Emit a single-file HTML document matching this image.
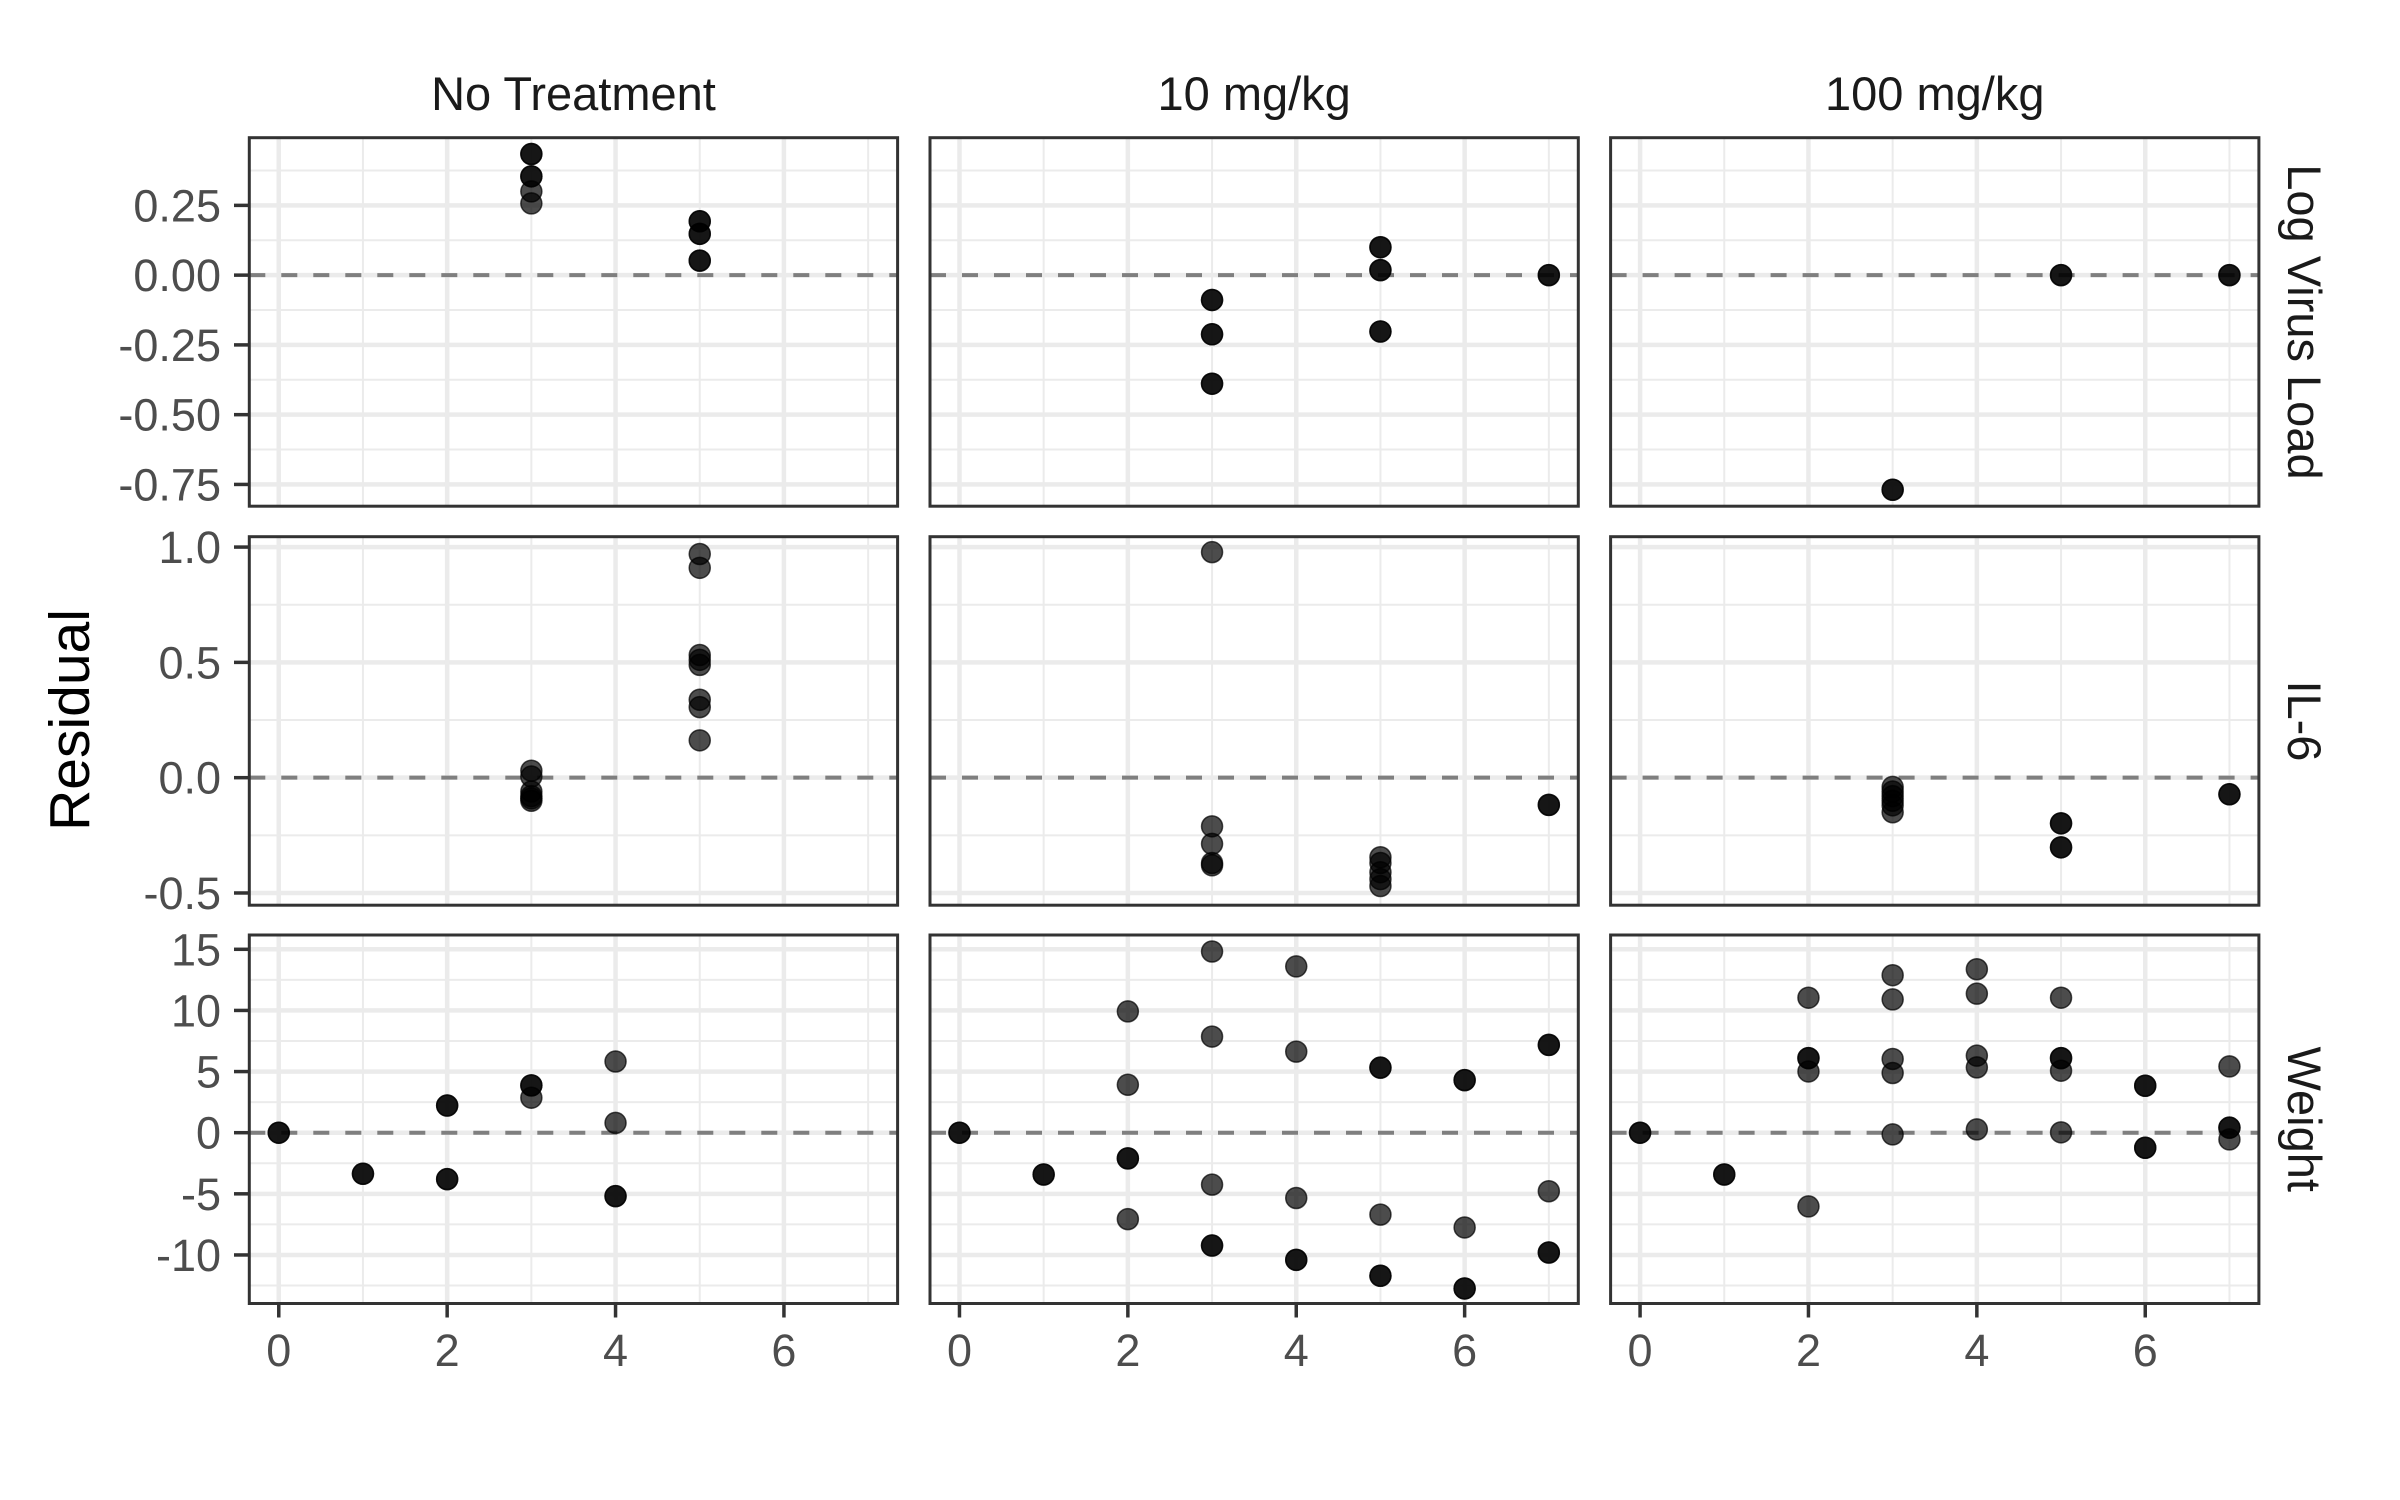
<!DOCTYPE html>
<html><head><meta charset="utf-8"><style>
html,body{margin:0;padding:0;background:#fff;}
svg{display:block;}
text{font-family:"Liberation Sans",Arial,sans-serif;}
</style></head><body>
<svg id="chart" xmlns="http://www.w3.org/2000/svg" width="2400" height="1500" viewBox="0 0 2400 1500">
<rect x="0" y="0" width="2400" height="1500" fill="#fff"/>
<text x="89" y="720" font-size="57" fill="#000" text-anchor="middle" transform="rotate(-90 89 720)">Residual</text>
</svg>
<script>
const treatments = ['No Treatment', '10 mg/kg', '100 mg/kg'];
const outcomes = ['Log Virus Load', 'IL-6', 'Weight'];
const xTicks = [0, 2, 4, 6];
const xTickLabels = ['0', '2', '4', '6'];
const xMinor = [1, 3, 5, 7];
const xDomain = [-0.35, 7.35];
const lvlDomain = [-0.828, 0.4925];
const il6Domain = [-0.553, 1.045];
const wtDomain = [-13.97, 16.17];
const lvlTicks = [0.25, 0, -0.25, -0.5, -0.75];
const lvlTickLabels = ['0.25', '0.00', '-0.25', '-0.50', '-0.75'];
const lvlMinor = [0.375, 0.125, -0.125, -0.375, -0.625];
const il6Ticks = [1.0, 0.5, 0, -0.5];
const il6TickLabels = ['1.0', '0.5', '0.0', '-0.5'];
const il6Minor = [0.75, 0.25, -0.25];
const wtTicks = [15, 10, 5, 0, -5, -10];
const wtTickLabels = ['15', '10', '5', '0', '-5', '-10'];
const wtMinor = [12.5, 7.5, 2.5, -2.5, -7.5, -12.5];

// Log Virus Load
const lvlNoTxDay = [3, 3, 3, 3, 3, 3, 5, 5, 5, 5, 5, 5];
const lvlNoTxRes = [0.434, 0.434, 0.354, 0.354, 0.30, 0.257, 0.193, 0.193, 0.148, 0.148, 0.052, 0.052];
const lvl10Day = [3, 3, 3, 3, 3, 3, 5, 5, 5, 5, 5, 5, 7, 7];
const lvl10Res = [-0.089, -0.089, -0.212, -0.212, -0.389, -0.389, 0.10, 0.10, 0.018, 0.018, -0.202, -0.202, 0, 0];
const lvl100Day = [3, 3, 5, 5, 7, 7];
const lvl100Res = [-0.769, -0.769, 0, 0, 0, 0];
// IL-6
const il6NoTxDay = [3, 3, 3, 3, 3, 3, 5, 5, 5, 5, 5, 5, 5, 5];
const il6NoTxRes = [0.03, 0.005, -0.06, -0.08, -0.09, -0.10, 0.97, 0.91, 0.532, 0.511, 0.489, 0.338, 0.306, 0.162];
const il610Day = [3, 3, 3, 3, 3, 5, 5, 5, 5, 5, 7, 7];
const il610Res = [0.978, -0.211, -0.287, -0.37, -0.38, -0.345, -0.37, -0.41, -0.44, -0.47, -0.118, -0.118];
const il6100Day = [3, 3, 3, 3, 3, 3, 5, 5, 5, 5, 7, 7];
const il6100Res = [-0.04, -0.06, -0.08, -0.10, -0.12, -0.15, -0.198, -0.198, -0.302, -0.302, -0.072, -0.072];
// Weight
const wtNoTxDay = [0, 0, 1, 1, 2, 2, 2, 2, 3, 3, 3, 4, 4, 4, 4];
const wtNoTxRes = [0, 0, -3.36, -3.36, 2.22, 2.22, -3.8, -3.8, 3.87, 3.87, 2.86, 5.82, 0.8, -5.19, -5.19];
const wt10Day = [0, 0, 1, 1, 2, 2, 2, 2, 2, 3, 3, 3, 3, 3, 4, 4, 4, 4, 4, 5, 5, 5, 5, 5, 6, 6, 6, 6, 6, 7, 7, 7, 7, 7];
const wt10Res = [0, 0, -3.42, -3.42, 9.92, 3.92, -2.1, -2.1, -7.07, 14.82, 7.86, -4.25, -9.23, -9.23, 13.6, 6.63, -5.34, -10.4, -10.4, 5.32, 5.32, -6.7, -11.7, -11.7, 4.3, 4.3, -7.75, -12.74, -12.74, 7.18, 7.18, -4.79, -9.8, -9.8];
const wt100Day = [0, 0, 1, 1, 2, 2, 2, 2, 2, 3, 3, 3, 3, 3, 4, 4, 4, 4, 4, 5, 5, 5, 5, 5, 6, 6, 6, 6, 7, 7, 7, 7];
const wt100Res = [0, 0, -3.42, -3.42, 11.04, 6.1, 6.1, 5.01, -6.03, 12.88, 10.9, 6.03, 4.88, -0.14, 13.37, 11.37, 6.3, 5.34, 0.27, 11.04, 6.1, 6.1, 5.07, 0.03, 3.84, 3.84, -1.23, -1.23, 5.42, 0.41, 0.41, -0.55];

const rows = [
  {domain: lvlDomain, ticks: lvlTicks, labels: lvlTickLabels, minor: lvlMinor, days: [lvlNoTxDay, lvl10Day, lvl100Day], res: [lvlNoTxRes, lvl10Res, lvl100Res]},
  {domain: il6Domain, ticks: il6Ticks, labels: il6TickLabels, minor: il6Minor, days: [il6NoTxDay, il610Day, il6100Day], res: [il6NoTxRes, il610Res, il6100Res]},
  {domain: wtDomain, ticks: wtTicks, labels: wtTickLabels, minor: wtMinor, days: [wtNoTxDay, wt10Day, wt100Day], res: [wtNoTxRes, wt10Res, wt100Res]}
];

const svg = document.getElementById('chart');
const NS = 'http://www.w3.org/2000/svg';
const colLeft = [249.3, 930, 1610.6];
const panelW = 648.3;
const rowTop = [137.7, 536.7, 935.0];
const panelH = 368.5;

function mk(tag, attrs, parent) {
  const e = document.createElementNS(NS, tag);
  for (const k in attrs) e.setAttribute(k, attrs[k]);
  (parent || svg).appendChild(e);
  return e;
}
function xScale(c, v) { return colLeft[c] + (v - xDomain[0]) / (xDomain[1] - xDomain[0]) * panelW; }
function yScale(r, v) { const d = rows[r].domain; return rowTop[r] + panelH - (v - d[0]) / (d[1] - d[0]) * panelH; }

// strip titles
treatments.forEach((t, c) => {
  const el = mk('text', {x: colLeft[c] + panelW / 2, y: 110, 'font-size': 47, fill: '#1A1A1A', 'text-anchor': 'middle'});
  el.textContent = t;
  
  
});
outcomes.forEach((o, r) => {
  const cx = 2288, cy = rowTop[r] + panelH / 2;
  const el = mk('text', {x: cx, y: cy, 'font-size': 47, fill: '#1A1A1A', 'text-anchor': 'middle', transform: 'rotate(90 ' + cx + ' ' + cy + ')'});
  el.textContent = o;
  
  
});

rows.forEach((row, r) => {
  const top = rowTop[r], bot = top + panelH;
  // y tick labels
  row.ticks.forEach((v, i) => {
    const y = yScale(r, v);
    const tk = mk('line', {x1: 234, x2: 249.3, y1: y, y2: y, stroke: '#333', 'stroke-width': 3.5});
    
    
    const lb = mk('text', {x: 221, y: y + 16, 'font-size': 45, fill: '#4D4D4D', 'text-anchor': 'end'});
    lb.textContent = row.labels[i];
    
    
  });
  for (let c = 0; c < 3; c++) {
    const g = mk('g', {});
    
    
    const L = colLeft[c], R = L + panelW;
    mk('rect', {x: L, y: top, width: panelW, height: panelH, fill: '#fff'}, g);
    row.minor.forEach(v => { const y = yScale(r, v); mk('line', {x1: L, x2: R, y1: y, y2: y, stroke: '#EBEBEB', 'stroke-width': 2}, g); });
    xMinor.forEach(v => { const x = xScale(c, v); mk('line', {x1: x, x2: x, y1: top, y2: bot, stroke: '#EBEBEB', 'stroke-width': 2}, g); });
    row.ticks.forEach(v => { const y = yScale(r, v); mk('line', {x1: L, x2: R, y1: y, y2: y, stroke: '#EBEBEB', 'stroke-width': 4.5}, g); });
    xTicks.forEach(v => { const x = xScale(c, v); mk('line', {x1: x, x2: x, y1: top, y2: bot, stroke: '#EBEBEB', 'stroke-width': 4.5}, g); });
    const y0 = yScale(r, 0);
    const ref = mk('line', {x1: L, x2: R, y1: y0, y2: y0, stroke: '#7F7F7F', 'stroke-width': 4, 'stroke-dasharray': '16 16'}, g);
    
    
    const dx = row.days[c], dy = row.res[c];
    for (let i = 0; i < dx.length; i++) {
      const p = mk('circle', {cx: xScale(c, dx[i]), cy: yScale(r, dy[i]), r: 10.5, fill: '#000', 'fill-opacity': 0.7, stroke: '#000', 'stroke-opacity': 0.7, 'stroke-width': 1.5}, g);
      
      
    }
    const b = mk('rect', {x: L, y: top, width: panelW, height: panelH, fill: 'none', stroke: '#333', 'stroke-width': 3}, g);
    
    
  }
});

// x axis ticks (bottom row)
for (let c = 0; c < 3; c++) {
  const bot = rowTop[2] + panelH;
  xTicks.forEach((v, i) => {
    const x = xScale(c, v);
    const tk = mk('line', {x1: x, x2: x, y1: bot, y2: bot + 14, stroke: '#333', 'stroke-width': 3.5});
    
    
    const lb = mk('text', {x: x, y: 1366, 'font-size': 45, fill: '#4D4D4D', 'text-anchor': 'middle'});
    lb.textContent = xTickLabels[i];
    
    
  });
}
</script>
</body></html>
